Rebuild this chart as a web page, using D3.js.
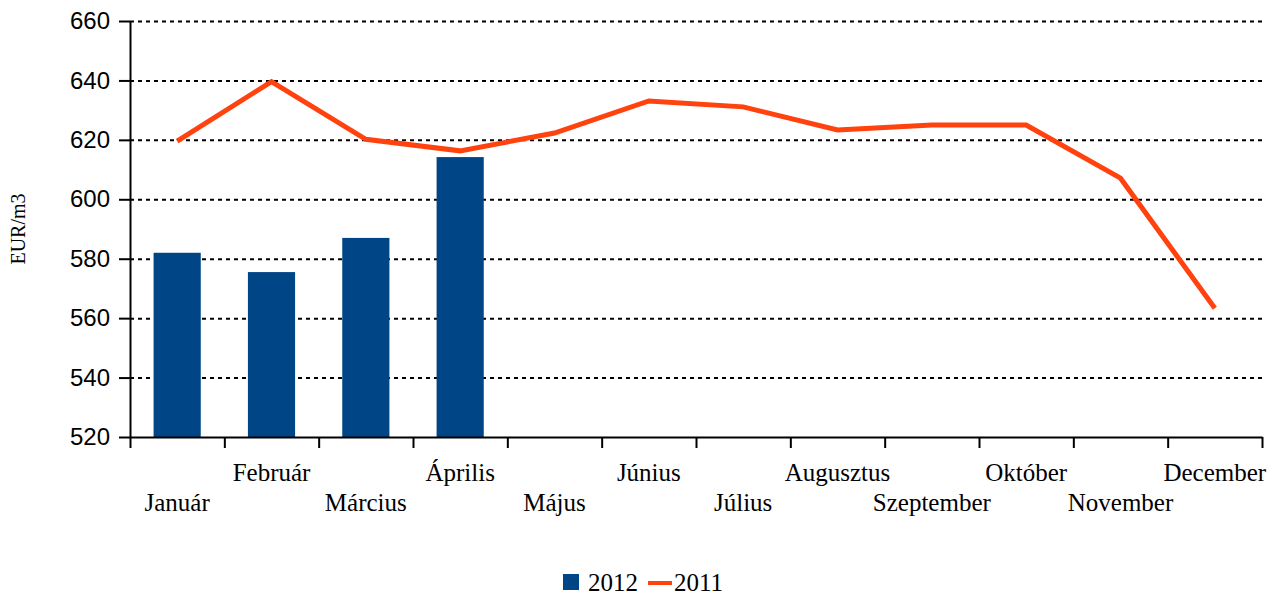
<!DOCTYPE html>
<html>
<head>
<meta charset="utf-8">
<script src="https://cdn.jsdelivr.net/npm/d3@7"></script>
<style>
  body { margin: 0; background: #fff; }
  .grid line { stroke: #000; stroke-width: 2; stroke-dasharray: 4,4; }
  .grid path { display: none; }
  .axis path, .axis line { stroke: #000; stroke-width: 2; }
  .y.axis text { font-family: "Liberation Sans", Arial, sans-serif; font-size: 24px; fill: #000; }
  .xlab { font-family: "Liberation Serif", "Times New Roman", serif; font-size: 25px; fill: #000; }
</style>
</head>
<body>
<div id="chart"></div>
<script>
// data
var months = ["Január", "Február", "Március", "Április", "Május", "Június",
              "Július", "Augusztus", "Szeptember", "Október", "November", "December"];
var values2012 = [582, 575.5, 587, 614.2];
var values2011 = [619.6, 639.6, 620.2, 616.3, 622.3, 633.1, 631.1, 623.3, 625, 625, 607.1, 563.3];
var yTicks = [520, 540, 560, 580, 600, 620, 640, 660];

var W = 1283, H = 598;
var margin = {top: 21, right: 21, bottom: 161, left: 130},
    width = W - margin.left - margin.right,
    height = H - margin.top - margin.bottom;

var svg = d3.select("#chart").append("svg")
    .attr("width", W)
    .attr("height", H)
    .append("g")
    .attr("transform", "translate(" + margin.left + "," + margin.top + ")");

var x = d3.scaleBand().domain(months).range([0, width])
    .paddingInner(0.5).paddingOuter(0.25);
var xb = d3.scaleLinear().domain([0, 12]).range([0, width]);
var y = d3.scaleLinear().domain([520, 660]).range([height, 0]);

// gridlines
svg.append("g")
    .attr("class", "grid")
    .call(d3.axisLeft(y)
        .tickValues(yTicks.slice(1))
        .tickSize(-width)
        .tickFormat(""));

// bars 2012
svg.selectAll(".bar")
    .data(values2012)
    .enter().append("rect")
    .attr("class", "bar")
    .attr("x", function(d, i) { return x(months[i]); })
    .attr("width", x.bandwidth())
    .attr("y", function(d) { return y(d); })
    .attr("height", function(d) { return height - y(d); })
    .attr("fill", "#004586");

// line 2011
var line = d3.line()
    .x(function(d, i) { return x(months[i]) + x.bandwidth() / 2; })
    .y(function(d) { return y(d); });

svg.append("path")
    .datum(values2011)
    .attr("fill", "none")
    .attr("stroke", "#ff420e")
    .attr("stroke-width", 5)
    .attr("d", line);

// x axis with ticks at band boundaries
svg.append("g")
    .attr("class", "x axis")
    .attr("transform", "translate(0," + height + ")")
    .call(d3.axisBottom(xb)
        .tickValues(d3.range(13))
        .tickSize(11)
        .tickSizeOuter(0)
        .tickFormat(""));

// staggered month labels
svg.selectAll(".xlab")
    .data(months)
    .enter().append("text")
    .attr("class", "xlab")
    .attr("text-anchor", "middle")
    .attr("x", function(d) { return x(d) + x.bandwidth() / 2; })
    .attr("y", function(d, i) { return height + (i % 2 === 0 ? 74 : 44); })
    .text(function(d) { return d; });

// y axis
svg.append("g")
    .attr("class", "y axis")
    .call(d3.axisLeft(y)
        .tickValues(yTicks)
        .tickSize(11)
        .tickSizeOuter(0)
        .tickPadding(9));

// y label
svg.append("text")
    .attr("transform", "rotate(-90)")
    .attr("x", -208)
    .attr("y", -105)
    .attr("text-anchor", "middle")
    .style("font-family", "'Liberation Serif', 'Times New Roman', serif")
    .style("font-size", "20px")
    .text("EUR/m3");

// legend
var legend = d3.select("svg").append("g")
    .attr("transform", "translate(563,0)");
legend.append("rect")
    .attr("x", 0).attr("y", 574)
    .attr("width", 16).attr("height", 16)
    .attr("fill", "#004586");
legend.append("text")
    .attr("class", "xlab")
    .attr("x", 25).attr("y", 591)
    .text("2012");
legend.append("line")
    .attr("x1", 85).attr("x2", 109)
    .attr("y1", 583).attr("y2", 583)
    .attr("stroke", "#ff420e")
    .attr("stroke-width", 4);
legend.append("text")
    .attr("class", "xlab")
    .attr("x", 111).attr("y", 591)
    .text("2011");
</script>
</body>
</html>
